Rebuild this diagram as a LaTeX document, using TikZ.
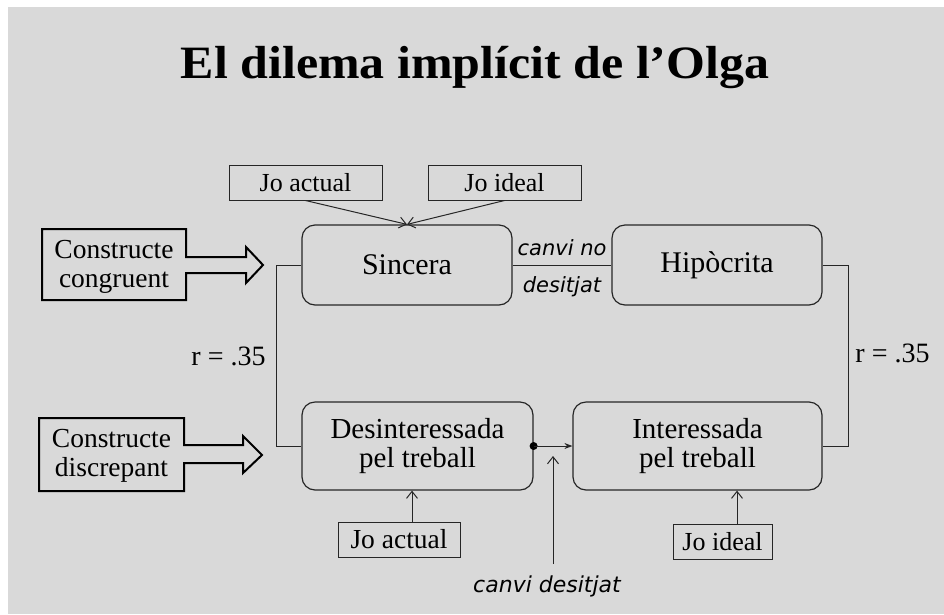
\documentclass[tikz,border=0pt]{standalone}
\usepackage{fontspec}
\usepackage{graphicx}
\setmainfont{Liberation Serif}
\newfontfamily\labfont{DejaVu Sans}
\usetikzlibrary{arrows.meta,calc}
\definecolor{bg}{HTML}{D9D9D9}
\definecolor{ln}{HTML}{262626}
\begin{document}
\begin{tikzpicture}[x=1pt,y=-1pt,
  rbox/.style={draw=ln, line width=1.2pt, rounded corners=13pt, align=center, inner sep=0pt, font=\fontsize{30}{30}\selectfont},
  rbox2/.style={rbox, font=\fontsize{29}{29}\selectfont},
  jbox/.style={draw=ln, line width=1pt, inner sep=0pt},
  txt/.style={inner sep=0pt, align=center},
  arr/.style={-{Straight Barb[length=7pt,width=11pt]}, draw=ln, line width=1pt},
  conn/.style={draw=ln, line width=1pt},
  big/.style={draw=black, line width=2pt, line join=miter},
  itl/.style={font=\labfont\itshape\fontsize{21}{24}\selectfont, inner sep=0pt}
]
\useasboundingbox (0,0) rectangle (944,614);
\fill[white] (0,0) rectangle (944,614);
\fill[bg] (8,7) rectangle (944,614);

\node[txt, anchor=base, font=\bfseries\fontsize{45}{50}\selectfont] (title) at (475,78) {\scalebox{1.11}[1.03]{El dilema implícit de l’Olga}};

% main nodes
\node[rbox, minimum width=210pt, minimum height=80pt] (sinc) at (407,265) {Sincera};
\node[rbox, minimum width=210pt, minimum height=80pt] (hipo) at (717,265) {Hipòcrita};
\node[rbox2, minimum width=231pt, minimum height=88pt] (desi) at (417.5,446) {Desinteressada\\pel treball};
\node[rbox2, minimum width=249pt, minimum height=88pt] (inte) at (697.5,446) {Interessada\\pel treball};

% jo boxes
\node[jbox, minimum width=153pt, minimum height=35pt, font=\fontsize{26}{28}\selectfont] (jat) at (305.5,182.5) {Jo actual};
\node[jbox, minimum width=153pt, minimum height=35pt, font=\fontsize{26}{28}\selectfont] (jit) at (504.5,182.5) {Jo ideal};
\node[jbox, minimum width=122pt, minimum height=35pt, font=\fontsize{27.5}{28}\selectfont] (jab) at (399,539.5) {Jo actual};
\node[jbox, minimum width=99pt, minimum height=35pt, font=\fontsize{26}{28}\selectfont] (jib) at (722.5,541.5) {Jo ideal};

\draw[arr] (jat.south) -- (sinc.north);
\draw[arr] (jit.south) -- (sinc.north);
\draw[arr] ([xshift=13pt]jab.north) -- ([xshift=13pt]jab.north |- desi.south);
\draw[arr] ([xshift=14.5pt]jib.north) -- ([xshift=14.5pt]jib.north |- inte.south);

% connectors
\draw[conn] (sinc.east) -- node[itl, anchor=base, yshift=10pt] (cno) {canvi no} node[itl, anchor=base, yshift=-27pt] (cdes) {desitjat} (hipo.west);
\draw[conn] (sinc.west) -- ++(-25,0) |- (desi.west);
\draw[conn] (hipo.east) -- ++(26,0) |- (inte.east);
\node[txt, anchor=base, font=\fontsize{28}{30}\selectfont] (rl) at (228.5,365) {r = .35};
\node[txt, anchor=base, font=\fontsize{28}{30}\selectfont] (rr) at (892.5,362) {r = .35};

\fill[black] (desi.east) circle (4);
\draw[conn, -{Stealth[length=8pt,width=6pt]}] (desi.east) -- (inte.west);

\node[itl, anchor=base, font=\labfont\itshape\fontsize{22}{24}\selectfont] (cdl) at (547,592) {canvi desitjat};
\coordinate (cdb) at (553,564);
\coordinate (cdt) at (553,456);
\draw[arr] (cdb) -- (cdt);

% construct arrows
\node[txt, font=\fontsize{27.5}{29}\selectfont] (cong) at (114,267) {Constructe\\congruent};
\draw[big] (42,229) -- (186,229) -- (186,257) -- (246,257) -- (246,247) -- (263,265) -- (246,283) -- (246,273) -- (186,273) -- (186,300) -- (42,300) -- cycle;
\node[txt, font=\fontsize{27.5}{29}\selectfont] (disc) at (111.5,456) {Constructe\\discrepant};
\draw[big] (39,418) -- (184,418) -- (184,445) -- (243,445) -- (243,436) -- (262,455) -- (243,473) -- (243,463) -- (184,463) -- (184,491) -- (39,491) -- cycle;
\end{tikzpicture}
\end{document}
